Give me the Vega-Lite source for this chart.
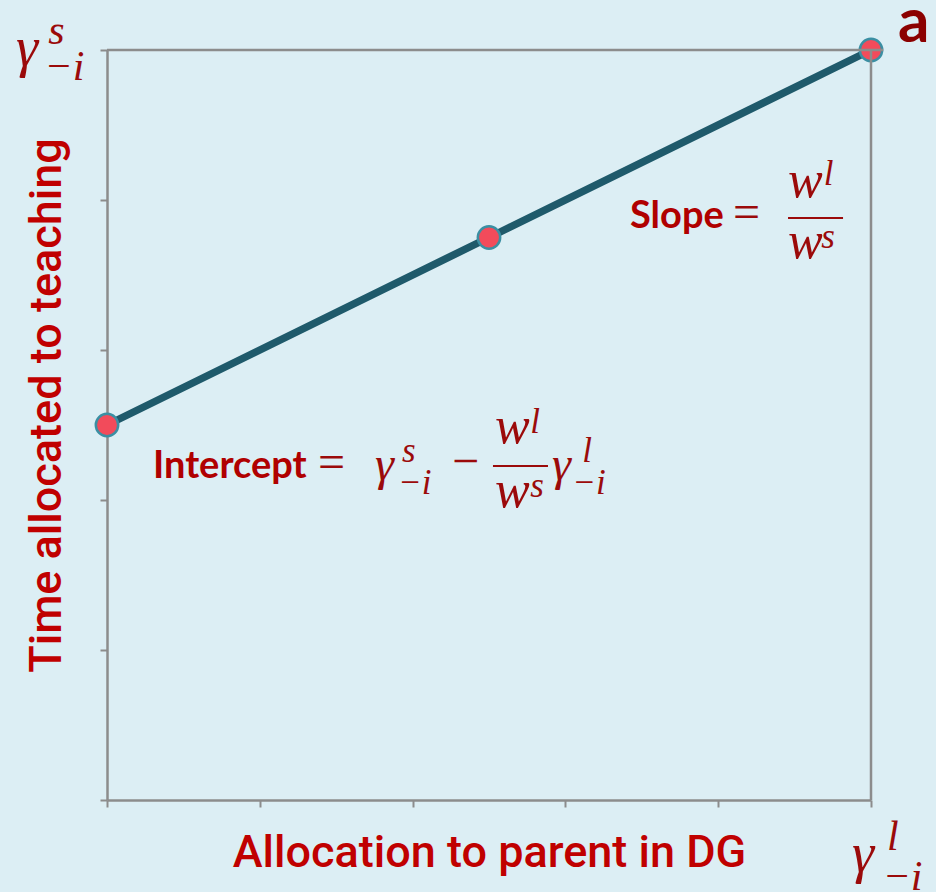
{
  "$schema": "https://vega.github.io/schema/vega-lite/v6.json",
  "width": 764,
  "height": 750,
  "autosize": "none",
  "padding": {"left": 107, "top": 50, "right": 65, "bottom": 92},
  "background": "#DCEEF4",
  "config": {"view": {"stroke": null}},
  "datasets": {
    "line": [{"x": 0, "y": 2.5}, {"x": 2.5, "y": 3.75}, {"x": 5, "y": 5}],
    "frame": [{"x": 0, "x2": 5.08, "y": 5, "y2": 5}, {"x": 5, "x2": 5, "y": 0, "y2": 5}],
    "mathBig": [{"x": -0.595, "y": 4.893, "t": "γ"}, {"x": 4.875, "y": -0.48, "t": "γ"}],
    "scriptBig": [{"x": -0.385, "y": 5.04, "t": "s"}, {"x": -0.41, "y": 4.8, "t": "−i"}, {"x": 5.105, "y": -0.333, "t": "l"}, {"x": 5.075, "y": -0.6, "t": "−i"}],
    "mathW": [{"x": 4.457, "y": 4.02, "t": "w"}, {"x": 4.457, "y": 3.613, "t": "w"}, {"x": 2.539, "y": 2.38, "t": "w"}, {"x": 2.539, "y": 1.953, "t": "w"}],
    "mathMid": [{"x": 1.754, "y": 2.133, "t": "γ"}, {"x": 2.912, "y": 2.133, "t": "γ"}],
    "scriptMid": [{"x": 4.69, "y": 4.1, "t": "l"}, {"x": 4.675, "y": 3.68, "t": "s"}, {"x": 1.93, "y": 2.253, "t": "s"}, {"x": 1.905, "y": 2.04, "t": "−i"}, {"x": 2.77, "y": 2.447, "t": "l"}, {"x": 2.77, "y": 2.02, "t": "s"}, {"x": 3.11, "y": 2.253, "t": "l"}, {"x": 3.045, "y": 2.04, "t": "−i"}],
    "ops": [{"x": 4.097, "y": 3.813, "t": "="}, {"x": 1.381, "y": 2.147, "t": "="}, {"x": 2.258, "y": 2.153, "t": "−"}],
    "bars": [{"x": 4.457, "x2": 4.817, "y": 3.88}, {"x": 2.526, "x2": 2.886, "y": 2.227}],
    "labels": [{"x": 3.423, "y": 3.813, "t": "Slope"}, {"x": 0.301, "y": 2.147, "t": "Intercept"}],
    "panel": [{"x": 5.177, "y": 5.053, "t": "a"}]
  },
  "encoding": {
    "x": {
      "field": "x", "type": "quantitative",
      "scale": {"domain": [0, 5], "nice": false, "zero": false},
      "axis": {
        "title": "Allocation to parent in DG",
        "values": [0, 1, 2, 3, 4, 5],
        "labels": false, "grid": false,
        "domainColor": "#8C8C8C", "domainWidth": 2.5,
        "tickColor": "#8C8C8C", "tickWidth": 2, "tickSize": 7,
        "titleFont": "Roboto", "titleFontSize": 45, "titleFontWeight": 500,
        "titleColor": "#C00000", "titleBaseline": "alphabetic", "titleY": 66
      }
    },
    "y": {
      "field": "y", "type": "quantitative",
      "scale": {"domain": [0, 5], "nice": false, "zero": false},
      "axis": {
        "title": "Time allocated to teaching",
        "values": [0, 1, 2, 3, 4, 5],
        "labels": false, "grid": false,
        "domainColor": "#8C8C8C", "domainWidth": 2.5,
        "tickColor": "#8C8C8C", "tickWidth": 2, "tickSize": 7,
        "titleFont": "Roboto", "titleFontSize": 45, "titleFontWeight": 500,
        "titleColor": "#C00000", "titleBaseline": "alphabetic", "titleX": -47, "titleY": 355
      }
    }
  },
  "layer": [
    {"data": {"name": "line"}, "mark": {"type": "line", "color": "#1F5A6B", "strokeWidth": 7.5}},
    {"data": {"name": "line"}, "mark": {"type": "point", "shape": "circle", "filled": true, "size": 500, "fill": "#F24B5B", "fillOpacity": 1, "stroke": "#3B8FA3", "strokeWidth": 2.5}},
    {"data": {"name": "frame"}, "mark": {"type": "rule", "color": "#8C8C8C", "strokeWidth": 2.5}, "encoding": {"x2": {"field": "x2"}, "y2": {"field": "y2"}}},
    {"data": {"name": "bars"}, "mark": {"type": "rule", "color": "#9B0A0A", "strokeWidth": 2}, "encoding": {"x2": {"field": "x2"}}},
    {"data": {"name": "mathBig"}, "mark": {"type": "text", "align": "left", "baseline": "alphabetic", "font": "Liberation Serif", "fontStyle": "italic", "fontSize": 56, "color": "#9B0A0A"}, "encoding": {"text": {"field": "t"}}},
    {"data": {"name": "scriptBig"}, "mark": {"type": "text", "align": "left", "baseline": "alphabetic", "font": "Liberation Serif", "fontStyle": "italic", "fontSize": 42, "color": "#9B0A0A"}, "encoding": {"text": {"field": "t"}}},
    {"data": {"name": "mathW"}, "mark": {"type": "text", "align": "left", "baseline": "alphabetic", "font": "Liberation Serif", "fontStyle": "italic", "fontSize": 52, "color": "#9B0A0A"}, "encoding": {"text": {"field": "t"}}},
    {"data": {"name": "mathMid"}, "mark": {"type": "text", "align": "left", "baseline": "alphabetic", "font": "Liberation Serif", "fontStyle": "italic", "fontSize": 48, "color": "#9B0A0A"}, "encoding": {"text": {"field": "t"}}},
    {"data": {"name": "scriptMid"}, "mark": {"type": "text", "align": "left", "baseline": "alphabetic", "font": "Liberation Serif", "fontStyle": "italic", "fontSize": 35, "color": "#9B0A0A"}, "encoding": {"text": {"field": "t"}}},
    {"data": {"name": "ops"}, "mark": {"type": "text", "align": "left", "baseline": "alphabetic", "font": "Liberation Serif", "fontSize": 48, "color": "#9B0A0A"}, "encoding": {"text": {"field": "t"}}},
    {"data": {"name": "labels"}, "mark": {"type": "text", "align": "left", "baseline": "alphabetic", "font": "Lato", "fontWeight": "bold", "fontSize": 38, "color": "#B00000"}, "encoding": {"text": {"field": "t"}}},
    {"data": {"name": "panel"}, "mark": {"type": "text", "align": "left", "baseline": "alphabetic", "font": "Lato", "fontWeight": "bold", "fontSize": 62, "color": "#8B0000"}, "encoding": {"text": {"field": "t"}}}
  ]
}
